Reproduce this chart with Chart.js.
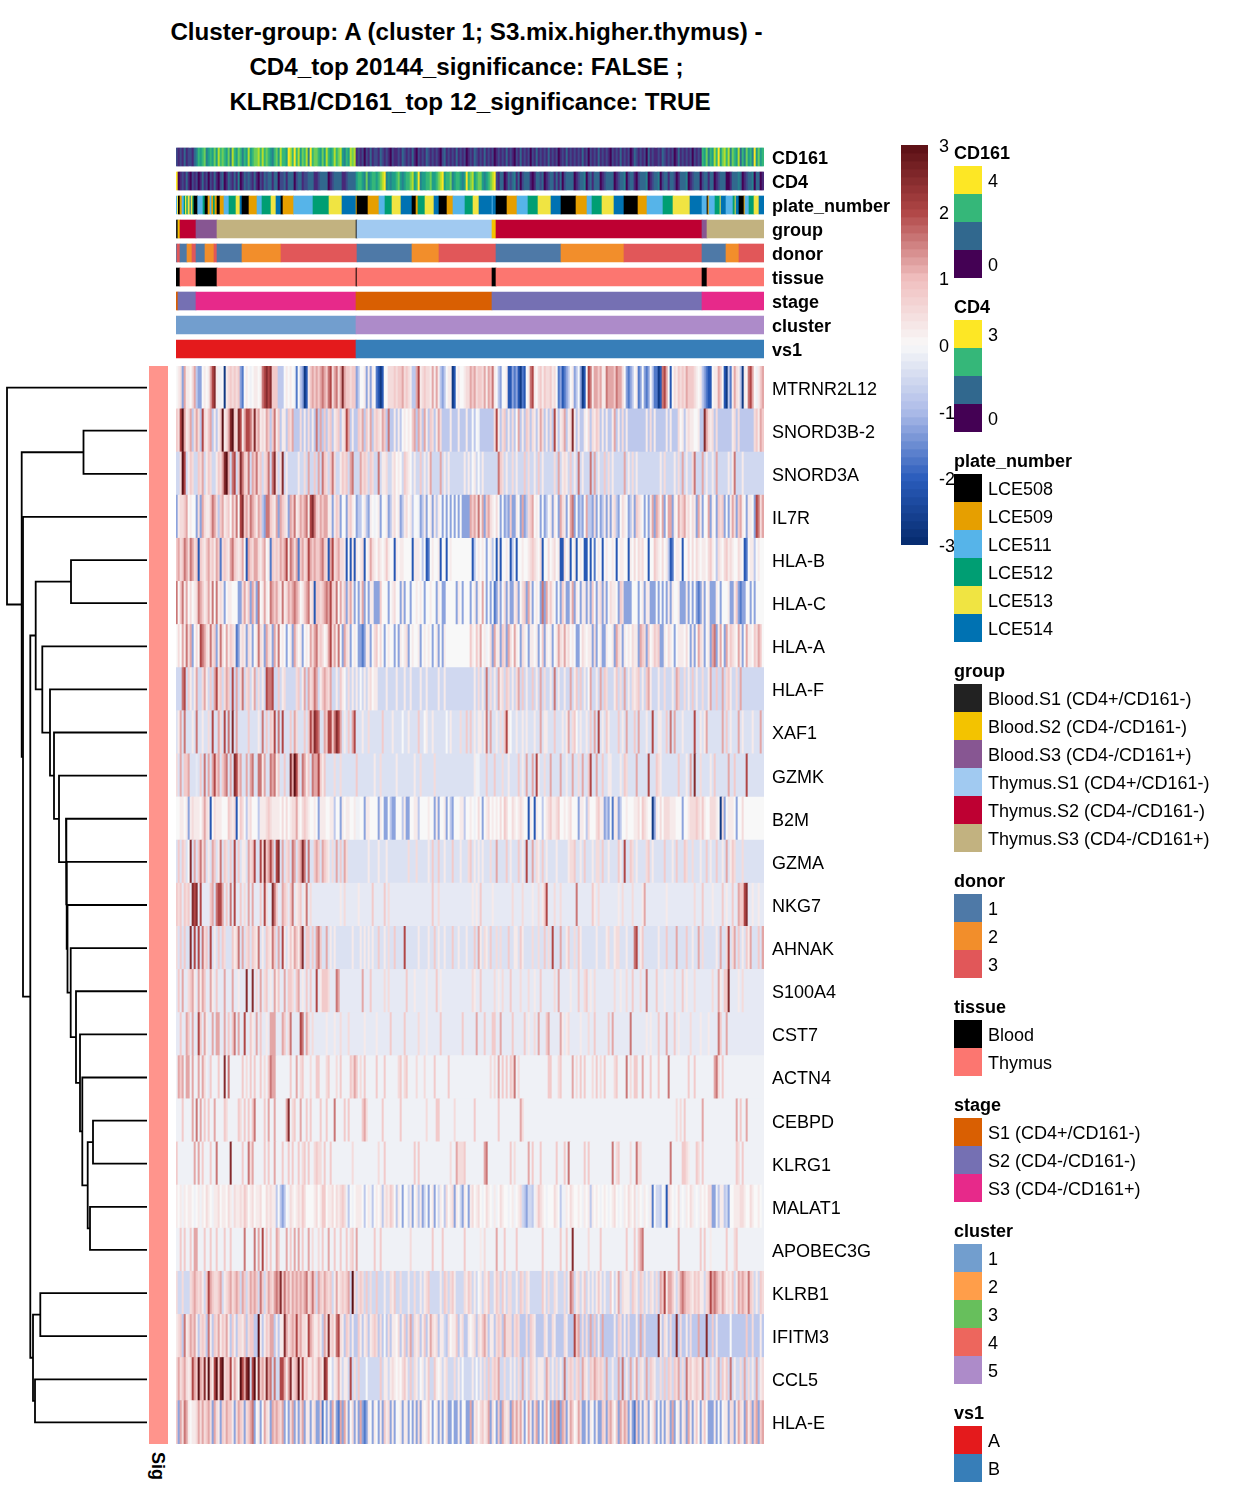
<!DOCTYPE html>
<html>
<head>
<meta charset="utf-8">
<title>Cluster-group heatmap</title>
<script src="https://cdn.jsdelivr.net/npm/chart.js@4/dist/chart.umd.min.js"></script>
<style>
  html, body { margin: 0; padding: 0; background: #fff; }
  body { position: relative; width: 1248px; height: 1497px; overflow: hidden; font-family: "Liberation Sans", Arial, sans-serif; color: #000; }
  canvas { position: absolute; }
  .txt { position: absolute; white-space: nowrap; font-size: 18px; line-height: 20px; }
  .bold { font-weight: bold; }
  .title { position: absolute; width: 933px; text-align: center; font-weight: bold; font-size: 24.2px; line-height: 30px; }
  .swatch { position: absolute; width: 28px; height: 28px; }
  .sig { position: absolute; left: 148px; top: 1452px; font-weight: bold; font-size: 18px; line-height: 20px; writing-mode: vertical-rl; }
</style>
</head>
<body>
<script>
const titleLines = [
  "Cluster-group: A (cluster 1; S3.mix.higher.thymus) -",
  "CD4_top 20144_significance: FALSE ;",
  "KLRB1/CD161_top 12_significance: TRUE",
];
const titleShift = [0, 0, 3.5];

const genes = ["MTRNR2L12", "SNORD3B-2", "SNORD3A", "IL7R", "HLA-B", "HLA-C", "HLA-A", "HLA-F", "XAF1", "GZMK", "B2M", "GZMA", "NKG7", "AHNAK", "S100A4", "CST7", "ACTN4", "CEBPD", "KLRG1", "MALAT1", "APOBEC3G", "KLRB1", "IFITM3", "CCL5", "HLA-E"];
const trackNames = ["CD161", "CD4", "plate_number", "group", "donor", "tissue", "stage", "cluster", "vs1"];

// z-score for each letter used in the heatmap rows
const levelChars = "abcdefghijklmnopqr";
const levelValues = [-2.7, -2.1, -1.7, -1.25, -0.78, -0.52, -0.38, -0.24, -0.12, 0, 0.25, 0.5, 0.8, 1.2, 1.6, 2, 2.5, 3];

// one letter per column, split at the middle of the plot (147 columns each side)
const rowBase = "jefjjjjfggjghghhiiijifefj".split("");
const heatLeft = [
  "jkldnkkjln eddjkjknpq kiijaklmlm lmdcjkjijk kjkopqpqmm meeejkjkji cjedabkmnm nmnonmopln olnqnmmlmm dejjkdkdkj cbabjjlllm lmmnlmlkee npklmllknk nkedejkkab jkjjkll",
  "mlprnklnel nleplkmnek ekmrklnqrm lqpknppomq mnklknmemo kmekkemlne eelekeleke oenemelmek lmeklpneke emlnemknel mlknmeoeek ekejkjkjmn enlenkemle knleeeekee ekeeeke",
  "fflrpfkmlf fmlnfkmlff kmlnqrnfop fmqomlofnm olmflmofoq lflqfkffff fkfflfnffm fnfomlfmol ffkmlmfnof ffnlmlfmlf fofkklffkl jkjfmlkjfk ffmfkfknff ffnfkfkfff ffffkfk",
  "dkllmnjkjj dldnlkkmon lemnklmjnl ojpqmnlonm knmedoomlk ndnmlkdnmo klnmnokpqo mlnmnnkkdk mldjjdlmkj deejkedkji jkdjjkdekl jkdekljkej jidekdjkdk ekjdjdjdjd jdjdddd",
  "mnlmonlonl mbmlkmnlmk nmclmlknom lklnjbnmln nlkmnjkcml mlnmnpkonl ncmnlmpnmn mmnomlbnpl mnllkbjbkb kjklbjknlk jlkjkmkjjb kjkkjjjjbk kkjejbcjkj jkbjjbjk",
  "ojmoknjljk lonmklnkoj oklkdjkkjj jddlnkmdnl dojknkjonm nlkoklnmno nmjkmnoklb mmlmnonpml ojnkmdlnkd jdkndjdkkd ddmjjjdjkl jjdkdjjdjj kjkjdjjkjj dkjddjjj jjdkjd",
  "jljnkolndj ljponlkolm dkoljnkmlk cdklkdlkdj kolkdnlkdn kojkjdjkdn ljkdjkjnln olmljknpln kojdnlkdjk jddcdkkdjl mjljdjkjjd jdkjkldjkj jkdjkjkjdj kdjdkjj",
  "fffopfmkfk nfflnkfmfn plmflnmfpf nfloflmfkn flfkfpoopf fmfklfffff lmfknfnlmo nfkmnmlnff kfmkjflfkf kfjfkfkljk kffffkffff kfffkffkff ffkffkffff fkffkff",
  "gkngogggkg oggkgglgpg gnlgpgogqg ngggggmggg gkgogmgmlp gogpgggmgn lgggmgmpnq poggnmppmo qpngkgmgnp gggkgglggg gggmggggkg gggjggkggg gmggjkggkg gggggjgkgg gglggmg",
  "lgngmmnggg hgmgogngnp mngmnogngq pmnggngnog gooknggono kmggmggqnr pmgonkmgon npmkmggggl gglggggggg mggggggggk gglggggggg kggggggggk gglggggggl ggggggg",
  "jjkkjkdklk kkjlnlkbjl kkkjjjmlkl bjmljekljj jekkklmlkk kkjljljkll nkjlmlkjjk jdkkkjjkke jjdkjkkjjk iijjdkkjjj jdkjddjedd jjjekddjjk kejjjjkjjd kdjjkdjedj jjkkejj",
  "gmgmlgjqgn gmolngkgnm gkogmlgmgp gmgkkgnlmp ggplqmnpng pqgnglmgon gmnqogoggm nmgnmlkglg ngmgnlgggg ggggggkggg gkgggkgggg gggggglggg lgggggkgmg gmggkgggmg ggkgggl",
  "mlmhmlmhqp qhphhhhmng oppnhmhohp hhmhlhnhnh hhmhplhhqo mhhnmlhmoh klmhkohlhh hhhhhhhhhh hhkhlhhhhh hkhhhhhhmh hhhhmhlhhh hhhhhhhhhh hhhhhhhhmh hlhhhhh",
  "lgmgmggqgp gpgolmgpgk gmgmlgggmk lognglmgml kogkgmlkom gngpkgkmkn mknqgmmgmg nomggngkgk ggggggggkg ggkgkgkgkg gmggkglggm ggggpggggg gkggggkggm gkggkgggmg gkgggkg",
  "hmhnhhlmnk hnknmhhnkh mhhhnhhhnh hkhhhqhhqh lhnhlmhkhn kmhhnhmmlh mnhkhmhmhh phkmmmlhhh onhhhhhhhh hhhnhhhmhh hhhhlhlhhh hhhhhmhhhk hhhhhkhhhh mhkhhhhhhh",
  "hhmhhnmhnh hpmhnkhhnh nnhhnhmhmo hnhhphhmkh nhmhhkhnnn hhhnmhlohh hhpohnlhlh hhhhhkhhhk hhlhhhlhhh hhhhkhhhhh khhhhhhmhh hhhhmhhhhh hlhhhkhhhh hhmhhhhhhh hhhmhhh",
  "inmninnini ininlihmii imiiqioiii iiimilimim iimilimonn iiiiiiimii nilmiiilii mmiiilmiii limiiiimln milimiiiii miiimiiiii ilmilmiiii liiiliiiim iiiiiim",
  "iiimiiiini oinimimiin iiiimliiii imlimimimo iiiiminiin iiiiinqilm iiniimimii iimiimiiio iiiimimiii iiimnliiii iiimiiiiii iimiiiiiii iiiiiliiii mmiiiiiiil iiiiiii",
  "miiiiiiiin inimiiimii oiiiiiiqii iiimiiolni iiiimimiin iiimiimimi imilmimiil mllimiimii iiiiiiiili iiiiiiiiii iliimiiiii iiiiiiiiim imiiiiiiii iiiiiiilii nlllmii",
  "kjkikjkkji jkikjlkjik kljkkjlkil kklkmljklj kkljjlklkk ejedejilkj klkmljjjjk ljkmmjkklj lklmliejij kkkjejkiej kjkeklkmlj ekjdjjfkdj kekdfjdjkd jfkjeljkld kjfdkjd",
  "iimimiimin niiimiimii miiimiimii iiiioiiiio inipimimii nmiiinimin inimiinili ilimiiniim iimiimilmi niiiiiiiim iimiiiiiii iiiiiiilii iiiiiiiimi iiimiiiiii iiiimii",
  "lfflffflmn mlmkfmpnml lmnfklmnlm nmfnmflnmn mfomflnmln onqmomnlnm nmnmnolmom fnmlnmlmfk nklmlmnfrl flmlfmflff mfffkfflkm fflfffkffl ffkfklmfff ffkfmlflmk fffflkm",
  "klmeoklnmn kelmleokem lnkmlnkemk ellkmelmme erkekmlnne kekkqnlmnm pmnllkpnmk kmkenlqlmk oplkemleke emkekleklm lelejelekk jlekmelnel klekmeknlk lekkfeljkk mekleek",
  "lnlmnlklpn mrnmqlrmkp rmqrlmmpkn ljrpnqrfpr kqmnlqnofo ffppnknqlm nrlplmkkmk lnmkqpkjfk lnkfkkfpfl fmfffjffff ffmfkkfklk jkjlmkfmfl kfjkfkmffm kjkfklfffl fkfjfff",
  "mdnlonkjkk lnlnlmnldn lkdmlnmmkd lnmldlmnod jkdjnlkdnm nmlndjdlnd kdlndkkdkl ddmcjdkdnk dcndnkdjld kdndcdkjdk jdkdmkldkd jjkdkkdjdk dldkjkmjdj kdkdjlddjd dkdjjdd",
];
const heatRight = [
  "nmnlmmlnkn mokjedjjkb bdcdbacbjk opkjlmkmll mkljcdbcde jkdejdabjp oknnmnkkon nnmonnljdc dejkcdjdcd jeccabopnj bjlkmlmlnm mmlkjkedcb bjkknmjbae cknlkeakjo pnjikmn",
  "ejejieeeee eelpkelmek elejnekeml elkeknleke lepkeklnek lqkekeekjl elkmlekeke eknekeleke eeeeeeeeke lekeeeeeke keeeljkekl kkjjkeeqnl kleleeeeee ekleleeeee eelmknm",
  "fjkfjfkfff ffffomlfkf flfkfffmfl ffkfmfkfff fflfnfklkf mfkfofkfff ofnfkffmfl fkfffffnfk flfkffffff fffffkflff ffkflfnfkf flofffnfkf fkfnfffffk fkofffk",
  "nmnlokndmn lkjljdjded mddkjdndel mnjkjdjdej kdkjdnlkdj nodjdedjne edldjdekdk dkledjlkjd ekdmlkjdjd kndnmjndjn ndkjnlmnkl jlkdnkdjjn dkjdmlmdjd knldmnkjdk kjdpoln",
  "jbejkjkjdj kejbkbjjkj bejbjjkjjk lmlkjlbjjl jkljkbbljk bjkbjkjbbj bjcjkjbjkj jkjbjkkjjb kjljlkljjb jjmlkjljke bcjkkjbjjl jljlkjkkjl mkjelkjlmk lkjjlkjbcj kkejk",
  "djkdkjnjdj djcdkdjldk ddkldjlmdn kdjkjdodnk mkjdjdmkdd kndkjdkkdk dmjdkldkdj lkkjdmlddd djjjdjkdkk dddjdjdjdk dkjjkdddkd jdjdcdkdjk dddkjdjjjk ddkmdcddj jdjdj",
  "mkjmknjkij ldnkkdmldn ljnkjdlkjd kkjkdjmdkj kdjknlknkl jkjddjlkjk kdldjkddkj jkdnlkdkjk jlkkdnmldm jkmlmddkjl kjdjkkkjlj dkdjnlkdjk dnodknjdnk mlkjnkdjn kkjmlnm",
  "ffkflfkfof lfkfnklfml fkflnfmfkf fmfkfnflff kfofkffkff nfkmfmfkfj nffkfnfmlf ffkmflfnfk flklmfkfmn kfffkfflff fkfnmfflfk fmfkfflffk nffmffnflm kfflfnf",
  "mgkgkkgkog nggkglgmpk jggkggkgkg ggkggngkkg ggmgggkgkn glmjgkggkg mgngpgkgmk ggggmgkgng ggmgngggkg gpggkkggmg ogngggkggg ggpggkgkng ggggggngmg kgggngkggg gkgggng",
  "ggkiigggmg ggmggglggk ggggmgkgng gngpkgglgg nggggnggkg gngglgnggm pggnggmggk kggggkgmlg gggngggggp gggmlkgggg ggggmgggkg ngqgglgggg kgmggggggn ggmgggg gp",
  "kjijljdjkl jkjkjljmlj jlkjklkjjb kjbkjjejkl mkklmjjkjk ljjjdkkjel jjjlmkkded jckkdejjkj jjkkljmlkj jadkjljlll kkkjjjdjjk lllmlkmkjj lllkjaldjk kkjdjjl",
  "mgkgkgkggg lggnggggmg kgggmgkgpg gnglkgmgkg gggkgggggk llmggkgmgg gkgllgmggk ggggmkgpgg mlgkgggglm gkgggggmgg gkgmgggmlg glgggkggmg kggmggkgng kmlgggl",
  "hkhkhmhhhh hkhhhhhhhh hlhhhhlhhh hkhhlhkmph hhlhhlhhhh hhhohhhhhh hmkhlhhhhh hhhhkhlhhh hlhhhhknhh hhhhhhhhkh hhhhhhhhhh hhlhhhmhhh hkhhhhmhkh hmhhnmmpqh hkhhkhh",
  "ggmgnkglkg mgglglgggm ggkkgmkggg glgglggmgl gpgggnggkm gglgmkgggg gggkggggkl ggkllgggkg ggopgkmggg ggggkgggmg gggnggggmg gkggnglggg gggkgngglp glngmgkgmk ngggmgn",
  "hlkhhmhhhh hhlhkhlhhh mhhhhlhhhl hhkhhmhhhh hhlhnhhhhh khhhmhhlmh khlhhhhhhh hhlhhkhhlh hmhhhlhhoh hhhmhhhkhh hhlhhhmhkh hhlhhhhhhh hlhhnkhmmq hhhhkhlhhh hhhhhhh",
  "hhhnhhhmhh hmmhhnhhhh hmhhhhhmhk hhlhnhhhmn hhhhhnkhkl hhhhhkhhhl hhmhhhhhhm hnhhhhhhhh ohhhhhhhkh khhhmhhhnh hhmhkhhhhh lhhhhkhhhk hhhhomhhnh hhhhhhh",
  "iiiiiiiiii lilinimimi mloiliiiii iiiiiiiiim miiilmiiii inilimimii ilimilimii iilmiiiioi limmiiniii miiimiiiio iiiiiiiiim iimiiiiiii iinolimiii iiiiiii",
  "iimiiiiiii iiiimiiiii iiiiinliii iiiiiiiiii iiiiiiiiii iiiiiiiiii iiiiiiiiii iiiiiiiiii iiiiiiiiii iiiiiiiiii iiililimii iiiiiiniii iiiiiiiiii iiinimiini iiiiiii",
  "iiiiiiinoi iiiiiiiiii miliiiiiin imiiimiiii iiimiiimio iiiiiiimim iiiiiiiiii ioilmiiiii liiolliiii iiiiiiiiii oiiiiimmlk iiimlimiii iiiiiiiiii iiimlimii iiiiiii",
  "kljkljijlk jikijlkjji jkijklfedf feikmlkjij jjlkjeiikj lkjjkjikjk ekjkjijkji jkljijikjl kjlikjikji kcjffejibl kjijlijikj lkijikjkjl lddiekkefd jjkkkllkjj lkjjkji",
  "iiiiikilii iiiniiimii iiimiiiiii iiiiiimiii iiiiimiimi iqiiiiiiil iiiiimiiii iiiiiiiimi iimimnoiii iiiiiiiiii iiiiniiiii iiiiimimii kiiiiiiimi iilmiiiiii iiiiiii",
  "lfkfjkflkm ffkmlfmkfl lffkfmlflk ffffffmkfl fflkffflfk onfklfkmfk fkfkmkfkff mjfknflkkk fmlkfmlfkf lkflfnmpkn nmkflnonmm lkmlmkkflm pnonmlnmkl kmfknmnmlo mlfkfml",
  "jklelkmnle kkelmlenll lelmleeele mlkeeeelke elkeeeelke eepmnelele nemekeneee eekemlekel eeekenelee eeeeqkelke leeqeleeke leeeneeeqe emekeeeeee jeeeeeeeme eleeeke",
  "fkfjfkflfm flmlnfflff kfkflfnfkf mlkfkkkfnl fkflfkfofl mlflmfnlkf mlnmlmlfnf fkffnfofkf nfknflkfnf mlkfflfmfm lfmlnflfol mklmlkoflm fkflnfmkmf ofkfflfnfl fkfnfkl",
  "ndkljlmkln dljdmdnlkl dnlnlnkdjn kdlndjdknj dndnodnmdk nmjknlddkd kjdkddmldm nljmdnlnmd kdcmdkdkld jkmdjdkdkl dndjkdkldn kdkmjdkmjd ddkdjdjkkd lldknlkdnk mdmndmn",
];

const viridisColors = ["#440154", "#482878", "#3e4989", "#31688e", "#26828e", "#1f9e89", "#35b779", "#6ece58", "#b5de2b", "#fde725"];
// expression bins for the two top tracks, one digit per column
const cd161Cells = "2121312213 4656745657 5867657486 5764658567 7868676546 7586659869 6857684967 7657586568 6785465878 1212021312 2132121021 1213212131 0212132121 2102312121 3121201213 2121312120 1212131210 2131212021 3121213121 2012131212 1213120212 1312121021 2131212013 2121203121 1213212120 1312121202 121 6574658695 7868476583 64756495756";
const cd4Cells = "9012131021 2013120213 1023013213 1401323213 1021323313 3022313330 2331223331 1233330123 3331123333 5665474566 5678945455 6754566785 6945566755 6789566745 6654596785 6775456789 2133013234 1302333101 3323012331 3130233330 1233402313 3301233330 1233402331 0233340123 3402331332 0133340123 3302331330 1233300133 3430123340 3301";

const plateNames = ["LCE508", "LCE509", "LCE511", "LCE512", "LCE513", "LCE514"];
const plateColors = ["#000000", "#E69F00", "#56B4E9", "#009E73", "#F0E442", "#0072B2"];
const plateRunCodes = [2, 4, 0, 1, 2, 3, 4, 3, 4, 5, 4, 3, 0, 2, 3, 0, 1, 2, 1, 3, 1, 0, 1, 2, 3, 4, 5, 0, 1, 2, 3, 4, 5, 0, 1, 2, 3, 4, 5, 1, 0, 1, 2, 3, 4, 5, 0, 1, 3, 4, 5, 0, 1, 2, 3, 4, 5, 2, 5, 0, 1, 2, 3, 4, 5, 0, 1, 2, 3, 4, 5, 0, 1, 2, 3, 4, 5, 2, 0, 1, 2, 3, 4, 5, 2, 3, 4, 5, 0, 1, 2, 3, 4, 5];
const plateRunEnds = [0.67, 1.17, 2, 3, 4, 4.67, 5.33, 6, 7, 7.5, 8.33, 9, 10.83, 13.5, 14.5, 16, 17, 17.83, 18.67, 19.5, 20.5, 22, 24, 26.5, 30, 32, 33, 36.5, 40.5, 43, 47.5, 50, 52.5, 53.5, 58.83, 68.5, 76.5, 83, 90, 90.5, 96, 101.5, 104.5, 108, 112.5, 118, 120, 121, 124.5, 129, 131.5, 135.5, 138.5, 144.5, 148.5, 151.5, 158, 158.5, 160, 165.5, 170.5, 176, 181, 187.5, 192.5, 200, 205.5, 208, 213, 219, 224, 231, 235.5, 243.5, 248.5, 257, 263, 265.5, 266, 266.5, 269.5, 272, 272.5, 275, 278.5, 279.5, 280, 281.5, 284, 284.5, 286.5, 289, 291.5, 294];

const groupNames = ["Blood.S1 (CD4+/CD161-)", "Blood.S2 (CD4-/CD161-)", "Blood.S3 (CD4-/CD161+)", "Thymus.S1 (CD4+/CD161-)", "Thymus.S2 (CD4-/CD161-)", "Thymus.S3 (CD4-/CD161+)"];
const groupColors = ["#222222", "#F3C300", "#875692", "#A1CAF1", "#BE0032", "#C2B280"];
const groupRunCodes = [0, 1, 4, 2, 5, 0, 3, 1, 4, 2, 5];
const groupRunEnds = [1, 2, 10, 20.5, 90, 90.5, 158, 160, 263, 265.5, 294];

const donorNames = ["1", "2", "3"];
const donorColors = ["#4E79A7", "#F28E2B", "#E15759"];
const donorRunCodes = [0, 2, 0, 1, 2, 0, 1, 2, 0, 1, 2, 0, 1, 2, 0, 1, 2, 0, 1, 2];
const donorRunEnds = [0.5, 2, 5.5, 8, 10, 14.5, 19, 20.5, 33, 52.5, 90.5, 118, 131.5, 160, 192.5, 224, 263, 275, 281.5, 294];

const tissueNames = ["Blood", "Thymus"];
const tissueColors = ["#000000", "#FC7670"];
const tissueRunCodes = [0, 1, 0, 1, 0, 1, 0, 1, 0, 1];
const tissueRunEnds = [2, 10, 20.5, 90, 90.5, 158, 160, 263, 265.5, 294];

const stageNames = ["S1 (CD4+/CD161-)", "S2 (CD4-/CD161-)", "S3 (CD4-/CD161+)"];
const stageColors = ["#D95F02", "#7570B3", "#E7298A"];
const stageRunCodes = [0, 1, 2, 0, 1, 2];
const stageRunEnds = [1, 10, 90, 158, 263, 294];

const clusterNames = ["1", "2", "3", "4", "5"];
const clusterColors = ["#729ECE", "#FF9E4A", "#67BF5C", "#ED665D", "#AD8BC9"];
const clusterRunCodes = [0, 4];
const clusterRunEnds = [90, 294];

const vs1Names = ["A", "B"];
const vs1Colors = ["#E41A1C", "#377EB8"];
const vs1RunCodes = [0, 1];
const vs1RunEnds = [90, 294];

// hclust style merges: negative = gene (1 based), positive = earlier merge
const mergeLeft = [-18, -20, 1, -17, -16, -15, -14, -13, -12, -11, -10, -9, -8, -7, -5, 15, -22, -24, 17, 16, -4, -2, 22, -1];
const mergeRight = [-19, -21, 2, 3, 4, 5, 6, 7, 8, 9, 10, 11, 12, 13, -6, 14, -23, -25, 18, 19, 20, -3, 21, 23];
const mergeHeight = [54, 57, 59.3, 64.7, 67, 71, 76.3, 79.5, 80.3, 81, 88, 93, 97, 104.7, 76, 111.3, 106.7, 112, 114, 116.7, 124, 63.5, 125.3, 140];

const sigColor = "#FF948C";
const zStops = [-3, -2, -1, 0, 1, 2, 3];
const zStopColors = [[5, 42, 108], [42, 92, 188], [172, 187, 232], [248, 248, 248], [240, 190, 190], [176, 70, 70], [90, 15, 20]];

function zColor(v) {
  let i = 0;
  while (i < zStops.length - 2 && v > zStops[i + 1]) i++;
  const t = (v - zStops[i]) / (zStops[i + 1] - zStops[i]);
  const c = zStopColors[i].map((a, k) => Math.round(a + (zStopColors[i + 1][k] - a) * t));
  return `rgb(${c[0]},${c[1]},${c[2]})`;
}

// consecutive equal cells become one floating bar
function cellsToBars(cells, rowName, colorOf) {
  const bars = [];
  const colors = [];
  let start = 0;
  for (let c = 1; c <= cells.length; c++) {
    if (c === cells.length || cells[c] !== cells[start]) {
      bars.push({ x: [start, c], y: rowName });
      colors.push(colorOf(cells[start]));
      start = c;
    }
  }
  return { bars, colors };
}

function runsToBars(codes, ends, rowName, palette) {
  return {
    bars: codes.map((code, i) => ({ x: [i === 0 ? 0 : ends[i - 1], ends[i]], y: rowName })),
    colors: codes.map((code) => palette[code]),
  };
}

function addCanvas(left, top, width, height) {
  const canvas = document.createElement("canvas");
  canvas.width = width;
  canvas.height = height;
  canvas.style.left = left + "px";
  canvas.style.top = top + "px";
  canvas.style.width = width + "px";
  canvas.style.height = height + "px";
  document.body.appendChild(canvas);
  return canvas.getContext("2d");
}

function stripChart(left, top, plotWidth, height, rowNames, parts, xMax, thickness, labelWidth, bold) {
  const bars = [];
  const colors = [];
  parts.forEach((p) => {
    bars.push(...p.bars);
    colors.push(...p.colors);
  });
  return new Chart(addCanvas(left, top, plotWidth + labelWidth, height), {
    type: "bar",
    data: {
      labels: rowNames,
      datasets: [{ data: bars, backgroundColor: colors, borderWidth: 0, barThickness: thickness }],
    },
    options: {
      indexAxis: "y",
      responsive: false,
      animation: false,
      events: [],
      layout: { padding: 0 },
      plugins: { legend: { display: false }, tooltip: { enabled: false } },
      scales: {
        x: { type: "linear", min: 0, max: xMax, display: false },
        y: {
          position: "right",
          display: labelWidth > 0,
          grid: { display: false, drawTicks: false },
          border: { display: false },
          afterFit: (s) => {
            s.width = labelWidth;
            s.paddingTop = 0;
            s.paddingBottom = 0;
          },
          ticks: {
            autoSkip: false,
            padding: 8,
            labelOffset: 2,
            color: "#000",
            font: { family: "Liberation Sans", size: 18, weight: bold ? "bold" : "normal" },
          },
        },
      },
    },
  });
}

// text
titleLines.forEach((line, i) => {
  const d = document.createElement("div");
  d.className = "title";
  d.style.left = titleShift[i] + "px";
  d.style.top = 17 + i * 35 + "px";
  d.textContent = line;
  document.body.appendChild(d);
});

// annotation tracks
const viridisOf = (ch) => viridisColors[Number(ch)];
stripChart(176, 145, 588, 216, trackNames, [
  cellsToBars(cd161Cells.replace(/ /g, ""), "CD161", viridisOf),
  cellsToBars(cd4Cells.replace(/ /g, ""), "CD4", viridisOf),
  runsToBars(plateRunCodes, plateRunEnds, "plate_number", plateColors),
  runsToBars(groupRunCodes, groupRunEnds, "group", groupColors),
  runsToBars(donorRunCodes, donorRunEnds, "donor", donorColors),
  runsToBars(tissueRunCodes, tissueRunEnds, "tissue", tissueColors),
  runsToBars(stageRunCodes, stageRunEnds, "stage", stageColors),
  runsToBars(clusterRunCodes, clusterRunEnds, "cluster", clusterColors),
  runsToBars(vs1RunCodes, vs1RunEnds, "vs1", vs1Colors),
], 294, 18, 130, true);

// heatmap
const heatParts = genes.map((gene, r) => {
  const left = heatLeft[r].replace(/ /g, "").padEnd(147, rowBase[r]).slice(0, 147);
  const right = heatRight[r].replace(/ /g, "").padEnd(147, rowBase[r]).slice(0, 147);
  return cellsToBars(left + right, gene, (ch) => zColor(levelValues[levelChars.indexOf(ch)]));
});
stripChart(176, 366, 588, 1078, genes, heatParts, 294, 43.6, 130, false);

// Sig column
stripChart(149, 366, 19, 1078, genes, [{
  bars: genes.map((g) => ({ x: [0, 1], y: g })),
  colors: genes.map(() => sigColor),
}], 1, 43.6, 0, false);

// dendrogram
function dendroDatasets() {
  const mergeY = [];
  const nodeY = (id) => (id < 0 ? -id - 0.5 : mergeY[id - 1]);
  const nodeH = (id) => (id < 0 ? 0 : mergeHeight[id - 1]);
  return mergeHeight.map((h, m) => {
    const a = mergeLeft[m];
    const b = mergeRight[m];
    mergeY[m] = (nodeY(a) + nodeY(b)) / 2;
    return {
      data: [
        { x: nodeH(a), y: nodeY(a) },
        { x: h, y: nodeY(a) },
        { x: h, y: nodeY(b) },
        { x: nodeH(b), y: nodeY(b) },
      ],
      showLine: true,
      borderColor: "#000",
      borderWidth: 1.8,
      pointRadius: 0,
      tension: 0,
      clip: false,
    };
  });
}
new Chart(addCanvas(0, 366, 150, 1078), {
  type: "scatter",
  data: { datasets: dendroDatasets() },
  options: {
    responsive: false,
    animation: false,
    events: [],
    layout: { padding: { left: 7, right: 3 } },
    plugins: { legend: { display: false }, tooltip: { enabled: false } },
    scales: {
      x: { type: "linear", min: 0, max: 140, reverse: true, display: false },
      y: { type: "linear", min: 0, max: 25, reverse: true, display: false },
    },
  },
});

// colour bar
const barBands = 50;
const bandValues = Array.from({ length: barBands }, (_, i) => -3 + (i * 6) / barBands);
new Chart(addCanvas(901, 133, 60, 424), {
  type: "bar",
  data: {
    labels: ["z"],
    datasets: [{
      data: bandValues.map((v) => ({ x: "z", y: [v, v + 6 / barBands + 0.01] })),
      backgroundColor: bandValues.map((v) => zColor(v + 3 / barBands)),
      borderWidth: 0,
      barThickness: 27,
    }],
  },
  options: {
    responsive: false,
    animation: false,
    events: [],
    plugins: { legend: { display: false }, tooltip: { enabled: false } },
    scales: {
      x: { display: false },
      y: {
        position: "right",
        min: -3,
        max: 3,
        grid: { display: false, drawTicks: false },
        border: { display: false },
        afterFit: (s) => {
          s.width = 33;
          s.paddingTop = 12;
          s.paddingBottom = 12;
        },
        ticks: { stepSize: 1, padding: 11, labelOffset: 2, color: "#000", font: { family: "Liberation Sans", size: 18 } },
      },
    },
  },
});

// legends
function addText(text, x, cy, cls) {
  const d = document.createElement("div");
  d.className = "txt " + (cls || "");
  d.style.left = x + "px";
  d.style.top = cy - 9.5 + "px";
  d.textContent = text;
  document.body.appendChild(d);
}

function addLegend(title, titleY, boxTop, names, colors) {
  addText(title, 954, titleY, "bold");
  colors.forEach((c, i) => {
    const s = document.createElement("div");
    s.className = "swatch";
    s.style.left = "954px";
    s.style.top = boxTop + i * 28 + "px";
    s.style.background = c;
    document.body.appendChild(s);
    if (names[i] !== "") addText(names[i], 988, boxTop + i * 28 + 14);
  });
}

const legendViridis = [viridisColors[9], viridisColors[6], viridisColors[3], viridisColors[0]];
addLegend("CD161", 152, 166, ["4", "", "", "0"], legendViridis);
addLegend("CD4", 306, 320, ["3", "", "", "0"], legendViridis);
addLegend("plate_number", 460, 474, plateNames, plateColors);
addLegend("group", 670, 684, groupNames, groupColors);
addLegend("donor", 880, 894, donorNames, donorColors);
addLegend("tissue", 1006, 1020, tissueNames, tissueColors);
addLegend("stage", 1104, 1118, stageNames, stageColors);
addLegend("cluster", 1230, 1244, clusterNames, clusterColors);
addLegend("vs1", 1412, 1426, vs1Names, vs1Colors);

const sigLabel = document.createElement("div");
sigLabel.className = "sig";
sigLabel.textContent = "Sig";
document.body.appendChild(sigLabel);
</script>
</body>
</html>
